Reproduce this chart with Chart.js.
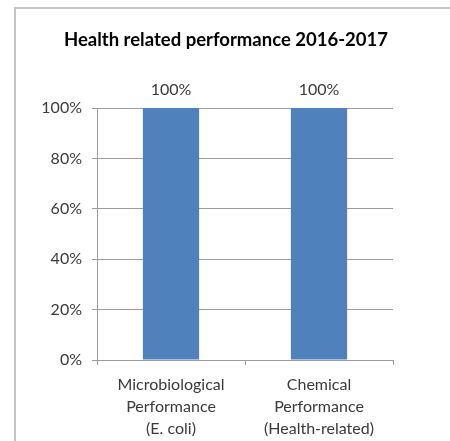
<!DOCTYPE html>
<html>
<head>
<meta charset="utf-8">
<script src="https://cdn.jsdelivr.net/npm/chart.js@4/dist/chart.umd.min.js"></script>
<style>
  html, body { margin: 0; padding: 0; background: #ffffff; }
  #wrap { position: relative; width: 450px; height: 441px; overflow: hidden; }
  #frame {
    position: absolute; left: 14px; top: 7px; width: 500px; height: 500px;
    border-left: 2px solid #c4c4c4; border-top: 2px solid #c4c4c4;
    box-sizing: border-box; pointer-events: none;
  }
  canvas { position: absolute; left: 0; top: 0; }
</style>
</head>
<body>
<div id="wrap">
  <div id="frame"></div>
  <canvas id="chart" width="450" height="441"></canvas>
</div>
<script>
// Categories (multi-line axis labels) and the share of samples meeting the standard
const categories = [
  ['Microbiological', 'Performance', '(E. coli)'],
  ['Chemical', 'Performance', '(Health-related)']
];
const compliance = [100, 100];
const yTicks = [0, 20, 40, 60, 80, 100];
const chartTitle = 'Health related performance 2016-2017';

const FONT = 'Lato, "Open Sans", sans-serif';
const TEXT = '#3a3a3a';
const LINE = '#9c9c9c';

// Title centred on the whole frame rather than on the plot box
const frameTitle = {
  id: 'frameTitle',
  afterDraw(chart) {
    const ctx = chart.ctx;
    ctx.save();
    ctx.font = 'bold 18.5px ' + FONT;
    ctx.fillStyle = '#000000';
    ctx.textAlign = 'center';
    ctx.textBaseline = 'middle';
    ctx.fillText(chartTitle, 226, 40);
    ctx.restore();
  }
};

// Writes each bar's value just above its top
const valueLabels = {
  id: 'valueLabels',
  afterDatasetsDraw(chart) {
    const ctx = chart.ctx;
    ctx.save();
    ctx.font = '16px ' + FONT;
    ctx.fillStyle = TEXT;
    ctx.textAlign = 'center';
    ctx.textBaseline = 'middle';
    chart.data.datasets.forEach((ds, i) => {
      chart.getDatasetMeta(i).data.forEach((bar, j) => {
        ctx.fillText(ds.data[j] + '%', bar.x, bar.y - 18);
      });
    });
    ctx.restore();
  }
};

new Chart(document.getElementById('chart'), {
  type: 'bar',
  data: {
    labels: categories,
    datasets: [{
      data: compliance,
      backgroundColor: '#4f81bd',
      borderWidth: 0,
      categoryPercentage: 1.0,
      barPercentage: 0.38
    }]
  },
  options: {
    responsive: false,
    animation: false,
    layout: { padding: { top: 108, right: 57, bottom: 0, left: 0 } },
    plugins: {
      legend: { display: false },
      tooltip: { enabled: false },
      title: { display: false }
    },
    scales: {
      x: {
        offset: true,
        grid: { offset: true, drawOnChartArea: false, drawTicks: true, tickLength: 5, color: LINE },
        border: { color: LINE, width: 1 },
        ticks: {
          color: TEXT, padding: 9, maxRotation: 0, autoSkip: false,
          font: { family: FONT, size: 16, lineHeight: 1.375 }
        },
        afterFit(scale) { scale.height = 81; }
      },
      y: {
        min: 0, max: 100,
        afterBuildTicks(scale) { scale.ticks = yTicks.map(v => ({ value: v })); },
        grid: { color: LINE, tickLength: 5 },
        border: { color: LINE, width: 1 },
        ticks: {
          color: TEXT, padding: 10,
          font: { family: FONT, size: 16 },
          callback: v => v + '%'
        },
        afterFit(scale) { scale.width = 97; }
      }
    }
  },
  plugins: [valueLabels, frameTitle]
});
</script>
</body>
</html>
